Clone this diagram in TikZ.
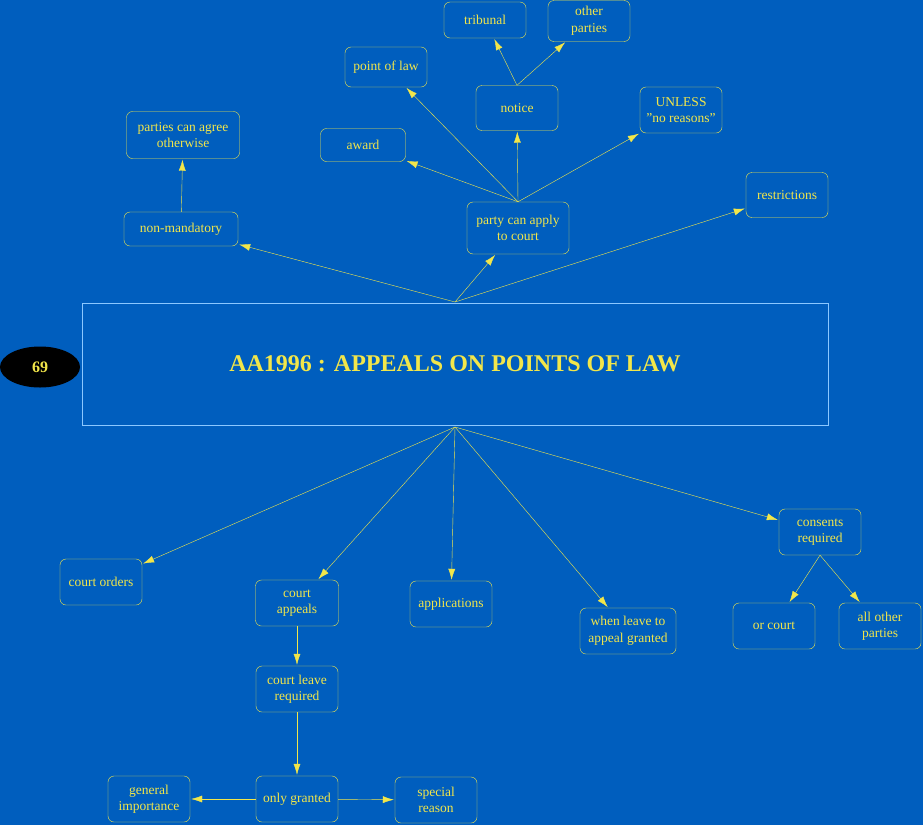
\documentclass[tikz,border=0pt]{standalone}
\usepackage{fontspec}
\setmainfont{Liberation Serif}
\usetikzlibrary{arrows.meta,shapes.geometric}
\definecolor{bg}{HTML}{005EBE}
\definecolor{yel}{HTML}{F2E64A}
\definecolor{lb}{HTML}{8CC8FF}
\begin{document}
\begin{tikzpicture}[x=1pt,y=-1pt,
  box/.style={draw=yel,rounded corners=6pt,text=yel,align=center,font=\fontsize{13.5}{16.5}\selectfont,inner sep=0pt,minimum width=82pt,minimum height=46pt},
  arr/.style={draw=yel,-{Latex[length=11pt,width=7pt]},shorten >=1pt}]
\fill[bg] (0,0) rectangle (923,825);
\useasboundingbox (0,0) rectangle (923,825);
\node[draw=lb,minimum width=746pt,minimum height=122pt,text=yel,font=\bfseries\fontsize{24}{28}\selectfont] (main) at (455,364) {AA1996 : APPEALS ON POINTS OF LAW};
\node[ellipse,fill=black,minimum width=80pt,minimum height=41pt,text=yel,font=\bfseries\fontsize{16}{18}\selectfont] (n69) at (40,367) {69};
\node[box,minimum height=36pt] (trib) at (485,20) {tribunal};
\node[box,minimum height=41pt] (oth) at (589,21) {other\\parties};
\node[box,minimum height=40pt] (pol) at (386,67) {point of law};
\node[box,minimum height=45pt] (notice) at (517,108) {notice};
\node[box] (unless) at (681,110) {UNLESS\\"no reasons"};
\node[box,minimum width=113pt,minimum height=47pt] (agree) at (183,135) {parties can agree\\otherwise};
\node[box,minimum width=85pt,minimum height=33pt] (award) at (363,145) {award};
\node[box,minimum height=45pt] (restr) at (787,195) {restrictions};
\node[box,minimum width=114pt,minimum height=34pt] (nonm) at (181,229) {non-mandatory};
\node[box,minimum width=102pt,minimum height=52pt] (pca) at (518,228) {party can apply\\to court};
\node[box] (orders) at (101,582) {court orders};
\node[box,minimum width=83pt] (cap) at (297,603) {court\\appeals};
\node[box] (apps) at (451,604) {applications};
\node[box,minimum width=96pt] (when) at (628,631) {when leave to\\appeal granted};
\node[box] (cons) at (820,532) {consents\\required};
\node[box] (orc) at (774,626) {or court};
\node[box] (allo) at (880,626) {all other\\parties};
\node[box] (clr) at (297,689) {court leave\\required};
\node[box] (only) at (297,799) {only granted};
\node[box] (gen) at (149,799) {general\\importance};
\node[box] (spec) at (436,800) {special\\reason};
\coordinate (mt) at (455,302);
\coordinate (mb) at (455,427);
\draw[arr] (mt) -- (nonm);
\draw[arr] (mt) -- (pca);
\draw[arr] (mt) -- (restr);
\draw[arr] (nonm) -- (agree);
\draw[arr] (pca.north) -- (award);
\draw[arr] (pca.north) -- (pol);
\draw[arr] (pca.north) -- (notice);
\draw[arr] (pca.north) -- (unless);
\draw[arr] (notice.north) -- (trib);
\draw[arr] (notice.north) -- (oth);
\draw[arr] (mb) -- (orders);
\draw[arr] (mb) -- (cap);
\draw[arr] (mb) -- (apps);
\draw[arr] (mb) -- (when);
\draw[arr] (mb) -- (cons);
\draw[arr] (cons.south) -- (orc);
\draw[arr] (cons.south) -- (allo);
\draw[arr] (cap) -- (clr);
\draw[arr] (clr) -- (only);
\draw[arr] (only) -- (gen);
\draw[arr] (only) -- (spec);
\end{tikzpicture}
\end{document}
